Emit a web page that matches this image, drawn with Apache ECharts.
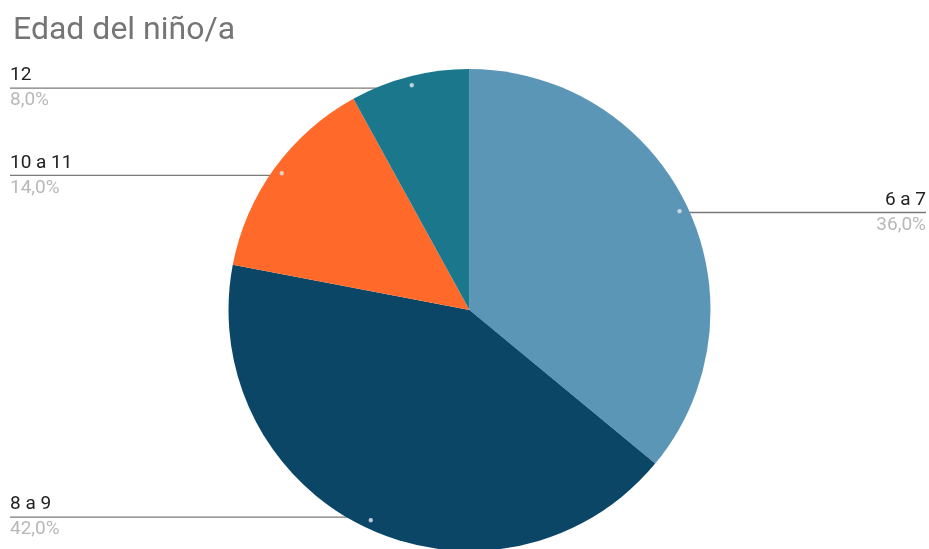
<!DOCTYPE html>
<html>
<head>
<meta charset="utf-8">
<script src="https://cdn.jsdelivr.net/npm/echarts@6/dist/echarts.min.js"></script>
<style>
html,body{margin:0;padding:0;background:#fff;}
#chart{width:929px;height:549px;}
</style>
</head>
<body>
<div id="chart"></div>
<script>
var title = 'Edad del niño/a';
var categories = ['6 a 7', '8 a 9', '10 a 11', '12'];
var values = [36, 42, 14, 8];
var pctLabels = ['36,0%', '42,0%', '14,0%', '8,0%'];
var colors = ['#5b96b7', '#0b4666', '#ff6a2b', '#1b778b'];

var CX = 469.5, CY = 310, R = 241, INSET = 12;
var chart = echarts.init(document.getElementById('chart'));
var data = categories.map(function (c, i) {
  var item = { name: c, value: values[i], itemStyle: { color: colors[i] } };
  if (i === 0) item.label = { edgeDistance: 3 };
  return item;
});
var dotData = categories.map(function (c, i) {
  return { name: c, value: values[i] };
});
var font = 'Roboto, Arial, sans-serif';
chart.setOption({
  animation: false,
  title: {
    text: title, left: 8, top: 10,
    textStyle: { fontFamily: font, fontSize: 32, fontWeight: 'normal', color: '#757575' }
  },
  series: [{
    type: 'pie',
    center: [CX, CY],
    radius: R,
    startAngle: 90,
    clockwise: true,
    data: data,
    label: {
      alignTo: 'edge',
      edgeDistance: 10,
      distanceToLabelLine: 0,
      formatter: function (p) { return '{n|' + p.name + '}\n{p|' + pctLabels[p.dataIndex] + '}'; },
      rich: {
        n: { fontFamily: font, fontSize: 19, color: '#222222', lineHeight: 25 },
        p: { fontFamily: font, fontSize: 19, color: '#b8b8b8', lineHeight: 25 }
      }
    },
    labelLine: { show: true, showAbove: true, length: 0, length2: 30, smooth: false, lineStyle: { color: '#7a7a7a', width: 1.3 } },
    labelLayout: function (p) {
      var pts = p.labelLinePoints;
      if (!pts) return {};
      var r = p.labelRect;
      var x0 = pts[0][0], y0 = pts[0][1];
      var dx = x0 - CX, dy = y0 - CY, d = Math.sqrt(dx * dx + dy * dy);
      var sx = CX + dx / d * (d - INSET), sy = CY + dy / d * (d - INSET);
      var isLeft = x0 < CX;
      var endX = isLeft ? r.x : r.x + r.width;
      return {
        y: sy, verticalAlign: 'middle',
        labelLinePoints: [[sx, sy], [endX, sy]]
      };
    }
  }, {
    type: 'pie',
    center: [CX, CY],
    radius: [R - 2 * INSET, R],
    startAngle: 90,
    clockwise: true,
    silent: true,
    z: 5,
    data: dotData,
    itemStyle: { color: 'rgba(0,0,0,0)' },
    label: { position: 'inside', formatter: '●', fontSize: 10, color: 'rgba(220,226,230,0.85)' },
    labelLine: { show: false }
  }]
});
</script>
</body>
</html>
